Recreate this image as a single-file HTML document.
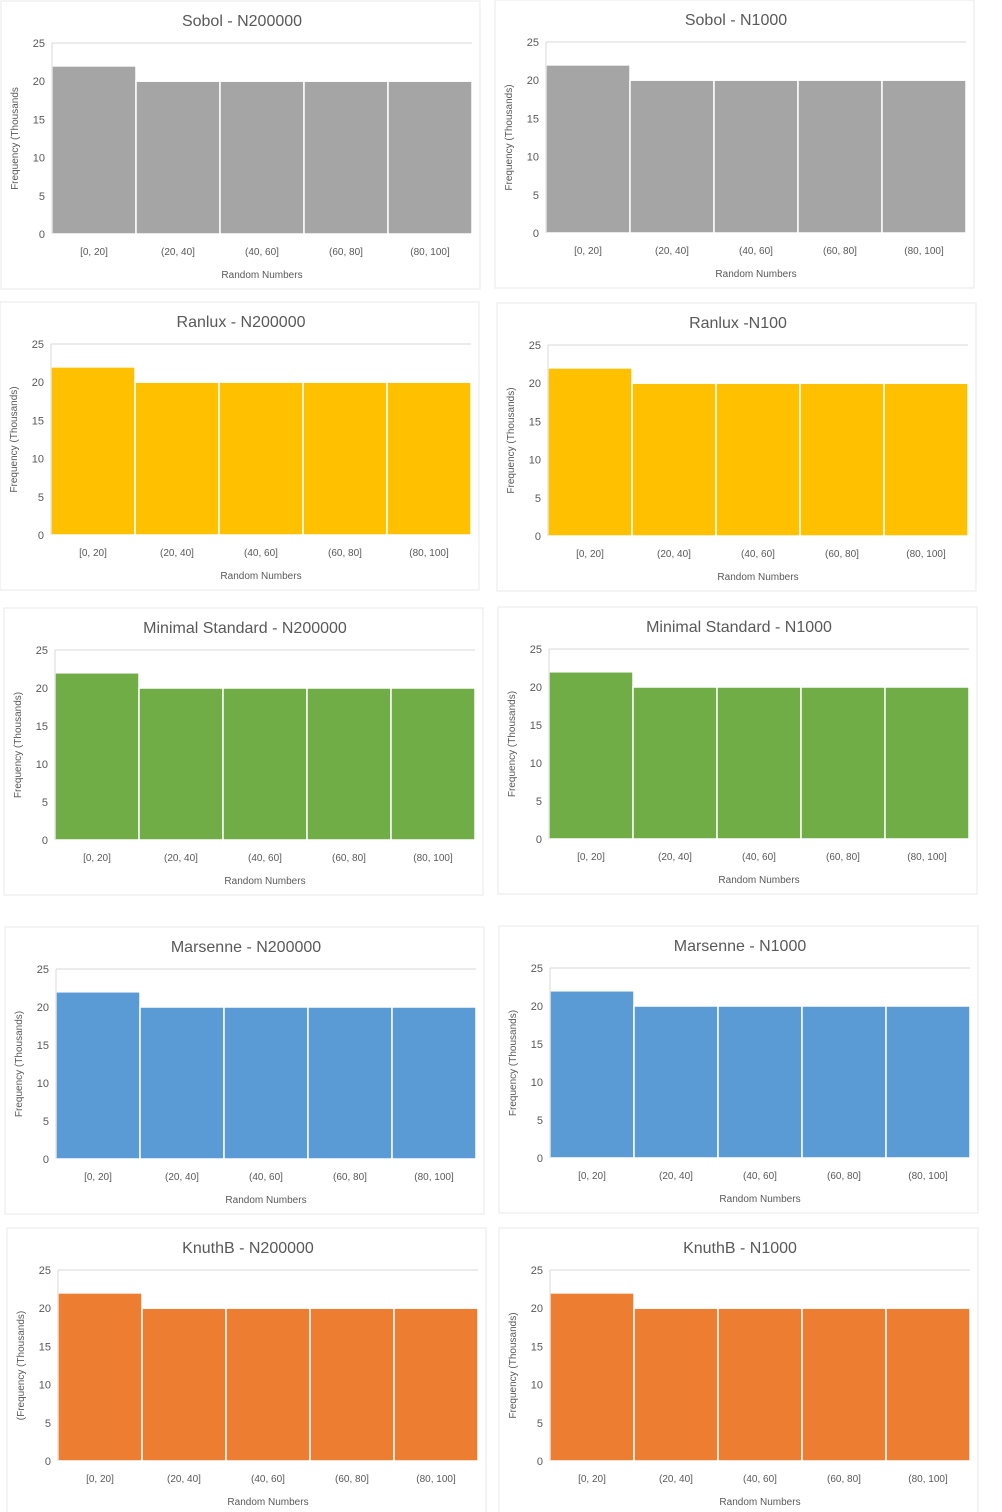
<!DOCTYPE html>
<html><head><meta charset="utf-8"><style>
html,body{margin:0;padding:0;background:#fff;}
svg{display:block;font-family:"Liberation Sans",sans-serif;}
</style></head><body>
<svg id="c" width="1002" height="1512"></svg>
<script>
const categories = ["[0, 20]","(20, 40]","(40, 60]","(60, 80]","(80, 100]"];
const yTicks = [0,5,10,15,20,25];
const titles = ["Sobol - N200000","Sobol - N1000","Ranlux - N200000","Ranlux -N100","Minimal Standard - N200000","Minimal Standard - N1000","Marsenne - N200000","Marsenne - N1000","KnuthB - N200000","KnuthB - N1000"];
const yTitles = ["Frequency (Thousands","Frequency (Thousands)","Frequency (Thousands)","Frequency (Thousands)","Frequency (Thousands)","Frequency (Thousands)","Frequency (Thousands)","Frequency (Thousands)","(Frequency (Thousands)","Frequency (Thousands)"];
const seriesValues = [
 [22,20,20,20,20],[22,20,20,20,20],
 [22,20,20,20,20],[22,20,20,20,20],
 [22,20,20,20,20],[22,20,20,20,20],
 [22,20,20,20,20],[22,20,20,20,20],
 [22,20,20,20,20],[22,20,20,20,20]
];
const colors = ["#a5a5a5","#a5a5a5","#ffc000","#ffc000","#70ad47","#70ad47","#5b9bd5","#5b9bd5","#ed7d31","#ed7d31"];
// plot boxes: left, top, right, bottom
const boxes = [[52,43,472,234],[546,42,966,233],[51,344,471,535],[548,345,968,536],[55,650,475,840],[549,649,969,839],[56,969,476,1159],[550,968,970,1158],[58,1270,478,1461],[550,1270,970,1461]];
const NS="http://www.w3.org/2000/svg";
const svg=document.getElementById('c');
function mk(tag,attrs,parent){const e=document.createElementNS(NS,tag);for(const k in attrs)e.setAttribute(k,attrs[k]);(parent||svg).appendChild(e);return e;}
boxes.forEach((b,i)=>{
  const [L,T,R,B]=b;
  const g=mk('g',{});
  
  
  const panel=mk('rect',{x:L-51,y:T-42,width:R-L+59,height:B-T+97,fill:'#fff',stroke:'#e8e8e8','stroke-width':1},g);
  
  
  const ymax=25;
  const y=v=>B-(v/ymax)*(B-T);
  const bw=(R-L)/categories.length;
  const x=j=>L+j*bw;
  yTicks.forEach(t=>{
    if(t>0){const gl=mk('line',{x1:L,x2:R,y1:y(t),y2:y(t),stroke:'#d9d9d9','stroke-width':1},g);
    
    }
    const tl=mk('text',{x:L-7,y:y(t)+4,'text-anchor':'end','font-size':11,fill:'#595959'},g);
    tl.textContent=t;
    
    
  });
  seriesValues[i].forEach((v,j)=>{
    const r=mk('rect',{x:x(j),y:y(v),width:bw,height:B-y(v),fill:colors[i],stroke:'#fff','stroke-width':1.5},g);
    
    
    const xl=mk('text',{x:x(j)+bw/2,y:B+21,'text-anchor':'middle','font-size':10,fill:'#595959'},g);
    xl.textContent=categories[j];
    
    
  });
  const ax=mk('line',{x1:L,x2:L,y1:T,y2:B,stroke:'#d9d9d9'},g);
  
  
  const ttl=mk('text',{x:(L+R)/2-20,y:T-17,'text-anchor':'middle','font-size':16,fill:'#595959'},g);
  ttl.textContent=titles[i];
  
  
  const xt=mk('text',{x:(L+R)/2,y:B+44,'text-anchor':'middle','font-size':10,fill:'#595959'},g);
  xt.textContent='Random Numbers';
  
  
  const cy=(T+B)/2;
  const yt=mk('text',{x:L-34,y:cy,'text-anchor':'middle','font-size':10,fill:'#595959',transform:`rotate(-90 ${L-34} ${cy})`},g);
  yt.textContent=yTitles[i];
  
  
});
</script>
</body></html>
